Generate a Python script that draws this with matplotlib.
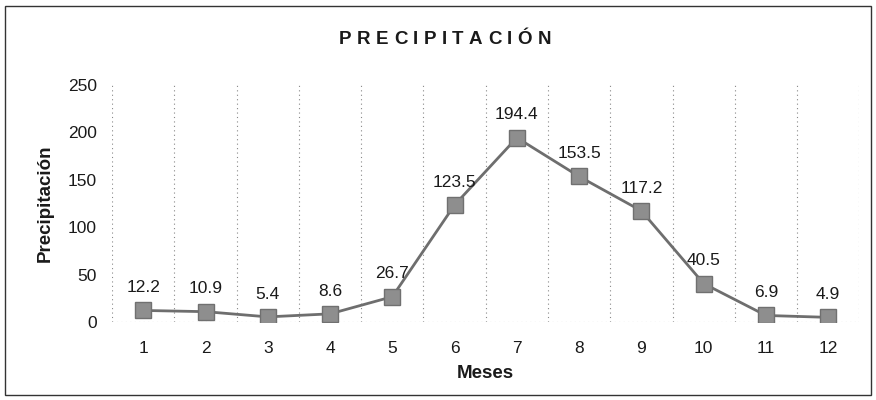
import matplotlib.pyplot as plt
from matplotlib.patches import Rectangle

plt.rcParams['font.family'] = ['Liberation Sans', 'DejaVu Sans']

meses = [1, 2, 3, 4, 5, 6, 7, 8, 9, 10, 11, 12]
precip = [12.2, 10.9, 5.4, 8.6, 26.7, 123.5, 194.4, 153.5, 117.2, 40.5, 6.9, 4.9]
yticks = [0, 50, 100, 150, 200, 250]
titulo = 'PRECIPITACIÓN'

fig = plt.figure(figsize=(8.76, 4), dpi=100)
ax = fig.add_axes([0.128, 0.195, 0.853, 0.5925])

ax.plot(meses, precip, color='#6e6e6e', lw=2, marker='s', ms=12,
        mfc='#8e8e8e', mec='#707070', mew=1)
for x, y in zip(meses, precip):
    ax.annotate(f"{y}", (x, y), xytext=(0, 11), textcoords='offset points',
                ha='center', va='bottom', fontsize=12.5, color='#1a1a1a')

ax.set_xlim(0.5, 12.5)
ax.set_ylim(0, 250)
ax.set_yticks(yticks)
ax.set_xticks(meses)
for b in [m + 0.5 for m in [0] + meses]:
    ax.axvline(b, color='#888888', lw=0.8, ls=(0, (1, 3)), zorder=0)
for s in ax.spines.values():
    s.set_visible(False)
ax.axhline(0, color='#888888', lw=0.8, ls=(0, (1, 3)), zorder=0)
ax.tick_params(length=0, labelsize=12.5, colors='#1a1a1a')
ax.tick_params(axis='x', pad=14)
ax.tick_params(axis='y', pad=11)

ax.set_xlabel('Meses', fontsize=13.5, fontweight='bold', labelpad=6, color='#1a1a1a')
ax.set_ylabel('Precipitación', fontsize=13.5, fontweight='bold', labelpad=10, color='#1a1a1a')

# letter-spaced title
r = fig.canvas.get_renderer()
track = 5.4
widths = []
for ch in titulo:
    t = fig.text(0, 0, ch, fontsize=13.5, fontweight='bold')
    widths.append(t.get_window_extent(r).width)
    t.remove()
total = sum(widths) + track * (len(titulo) - 1)
xpix = 445 - total / 2
for ch, w in zip(titulo, widths):
    fig.text(xpix / 876, 1 - 40 / 400, ch, ha='left', va='center',
             fontsize=13.5, fontweight='bold', color='#1a1a1a')
    xpix += w + track

fig.patches.append(Rectangle((0.006, 0.013), 0.988, 0.972, transform=fig.transFigure,
                             fill=False, ec='#333333', lw=1))

fig.savefig('out.png', dpi=100)
